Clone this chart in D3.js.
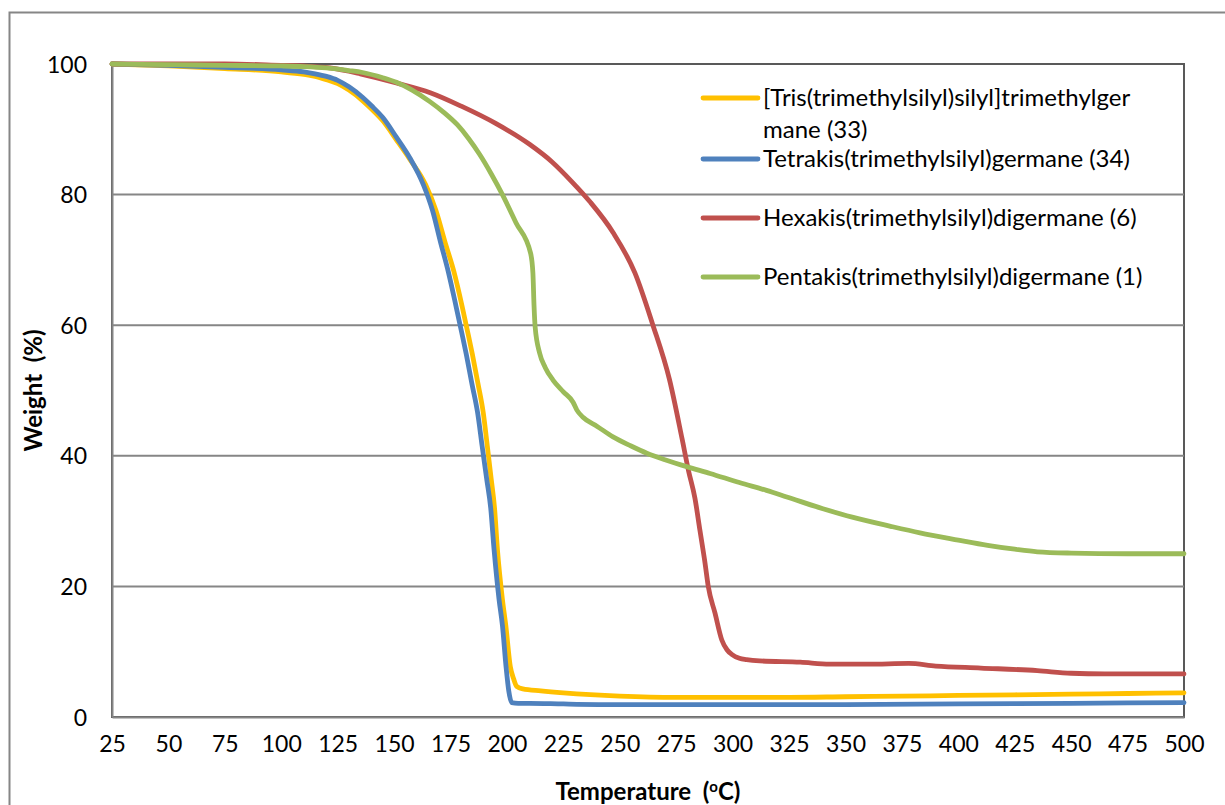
<!DOCTYPE html>
<html>
<head>
<meta charset="utf-8">
<script src="https://cdn.jsdelivr.net/npm/d3@7"></script>
<style>
  html, body { margin: 0; padding: 0; background: #fff; }
  svg { display: block; }
  text { font-family: Lato, "Open Sans", sans-serif; fill: #000; white-space: pre; }
</style>
</head>
<body>
<svg id="chart" width="1225" height="805"></svg>
<script>
// Thermogravimetric curves: weight (%) vs temperature (°C)
const xTicks = [25, 50, 75, 100, 125, 150, 175, 200, 225, 250, 275, 300, 325, 350, 375, 400, 425, 450, 475, 500];
const yTicks = [0, 20, 40, 60, 80, 100];

const seriesNames = [
  ["[Tris(trimethylsilyl)silyl]trimethylger", "mane (33)"],
  ["Tetrakis(trimethylsilyl)germane (34)"],
  ["Hexakis(trimethylsilyl)digermane (6)"],
  ["Pentakis(trimethylsilyl)digermane (1)"]
];
const seriesColors = ["#FFC000", "#4F81BD", "#C0504D", "#9BBB59"];

const trisTemp = [25, 50, 75, 100, 110, 115, 120, 125, 130, 136, 140, 145, 151, 157, 164, 168.5, 172.5, 176.5, 180.2, 182.7, 184.7, 187.2, 189.5, 191.3, 193, 194.5, 195.8, 198, 199.5, 201.5, 203, 204.3, 207, 215, 225, 250, 275, 300, 325, 350, 375, 400, 425, 450, 475, 500];
const trisWeight = [100, 99.7, 99.3, 98.8, 98.4, 98.1, 97.6, 97.0, 96.0, 94.4, 93.1, 91.3, 88.4, 85.4, 81.5, 77.6, 72.8, 68.2, 62.8, 58.8, 55.5, 51.0, 46.6, 41.5, 36.5, 32.0, 25.6, 18.0, 14.0, 7.7, 5.8, 4.7, 4.3, 4.0, 3.7, 3.2, 3.0, 3.0, 3.0, 3.1, 3.2, 3.3, 3.4, 3.5, 3.6, 3.7];

const tetraTemp = [25, 50, 75, 100, 110, 115, 120, 125, 130, 136, 140, 145, 151, 157, 163, 167, 170.5, 174, 177.5, 180, 182, 184.5, 187, 189, 191, 192.8, 194.3, 196.5, 198, 199.6, 200.8, 202.1, 205, 210, 225, 250, 300, 350, 400, 450, 500];
const tetraWeight = [100, 99.8, 99.5, 99.1, 98.8, 98.5, 98.1, 97.5, 96.5, 94.9, 93.6, 91.8, 88.8, 85.6, 81.5, 77.6, 72.8, 68.2, 62.8, 58.8, 55.5, 51.0, 46.6, 41.5, 36.5, 32.0, 25.6, 18.0, 14.0, 7.7, 4.0, 2.2, 2.1, 2.1, 2.0, 1.9, 1.9, 1.9, 2.0, 2.1, 2.2];

const hexaTemp = [25, 50, 75, 100, 110, 121.6, 135, 151, 166, 180, 195, 210, 220, 228.7, 236.8, 247, 256.7, 264.5, 272, 277.6, 280.4, 283.3, 285.5, 287.8, 289.2, 292.2, 295.2, 297.5, 299.6, 303, 306.2, 312, 330, 343, 360, 378, 390, 410, 435, 450, 465, 500];
const hexaWeight = [100, 100, 100, 99.8, 99.7, 99.4, 98.5, 97.1, 95.6, 93.5, 90.9, 87.7, 85.0, 82.0, 78.9, 74.2, 68.0, 60.2, 51.7, 42.6, 37.8, 33.5, 28.6, 23.5, 20.0, 15.9, 11.8, 10.3, 9.6, 9.0, 8.8, 8.6, 8.4, 8.1, 8.1, 8.2, 7.8, 7.5, 7.1, 6.7, 6.6, 6.6];

const pentaTemp = [25, 50, 75, 100, 110, 120, 130, 136, 145, 151, 158, 166, 172, 178, 183, 188, 193, 198, 204, 210.5, 211.5, 212, 212.5, 214.5, 217, 220.4, 225, 229.3, 231, 233.7, 240, 247, 255, 262, 270, 280, 290, 303, 315, 324, 340, 353, 370, 383, 400, 413, 425, 435, 450, 475, 500];
const pentaWeight = [100, 99.9, 99.8, 99.7, 99.6, 99.4, 99.0, 98.7, 97.9, 97.2, 96.0, 94.2, 92.6, 90.7, 88.6, 86.1, 83.2, 80.0, 75.7, 71.0, 68.0, 63.0, 59.7, 55.7, 53.5, 51.6, 49.8, 48.2, 47.0, 45.9, 44.5, 42.9, 41.5, 40.4, 39.4, 38.3, 37.3, 35.9, 34.7, 33.7, 31.9, 30.6, 29.2, 28.2, 27.1, 26.3, 25.7, 25.3, 25.1, 25.0, 25.0];

const seriesData = [
  d3.zip(trisTemp, trisWeight),
  d3.zip(tetraTemp, tetraWeight),
  d3.zip(hexaTemp, hexaWeight),
  d3.zip(pentaTemp, pentaWeight)
];

const svg = d3.select("#chart");
const plot = { left: 112, right: 1184, top: 64, bottom: 717 };

const x = d3.scaleLinear().domain([25, 500]).range([plot.left, plot.right]);
const y = d3.scaleLinear().domain([0, 100]).range([plot.bottom, plot.top]);

// Outer chart border
svg.append("rect")
  .attr("x", 9.5).attr("y", 12.5)
  .attr("width", 1240).attr("height", 820)
  .attr("fill", "none").attr("stroke", "#868686").attr("stroke-width", 2);

// Plot-area frame
svg.append("rect")
  .attr("x", plot.left).attr("y", plot.top)
  .attr("width", plot.right - plot.left).attr("height", plot.bottom - plot.top)
  .attr("fill", "none").attr("stroke", "#595959").attr("stroke-width", 2);

// Horizontal gridlines
svg.append("g")
  .selectAll("line")
  .data(yTicks.filter(d => d > 0 && d < 100))
  .join("line")
  .attr("x1", plot.left).attr("x2", plot.right)
  .attr("y1", d => y(d)).attr("y2", d => y(d))
  .attr("stroke", "#868686").attr("stroke-width", 2);

// Axes (no tick marks, labels only)
const yAxis = d3.axisLeft(y).tickValues(yTicks).tickSize(0).tickPadding(25);
const gy = svg.append("g").attr("transform", `translate(${plot.left},0)`).call(yAxis);
gy.select(".domain").attr("stroke", "#868686").attr("stroke-width", 2);
gy.selectAll("text").style("font-size", "23px").attr("dy", "0.35em");

const xAxis = d3.axisBottom(x).tickValues(xTicks).tickSize(0).tickPadding(27);
const gx = svg.append("g").attr("transform", `translate(0,${plot.bottom})`).call(xAxis);
gx.select(".domain").attr("stroke", "#868686").attr("stroke-width", 2);
gx.selectAll("text").style("font-size", "23px").attr("dy", "0.35em");

// Series curves
const line = d3.line()
  .x(d => x(d[0]))
  .y(d => y(d[1]))
  .curve(d3.curveMonotoneX);

svg.append("g")
  .selectAll("path")
  .data(seriesData)
  .join("path")
  .attr("d", line)
  .attr("fill", "none")
  .attr("stroke", (d, i) => seriesColors[i])
  .attr("stroke-width", 4.8)
  .attr("stroke-linejoin", "round")
  .attr("stroke-linecap", "round");

// Legend
const legendRows = [98, 159, 218, 277];
const legend = svg.append("g");
seriesNames.forEach((lines, i) => {
  const g = legend.append("g").attr("transform", `translate(703,${legendRows[i]})`);
  g.append("line")
    .attr("x1", 0).attr("x2", 55).attr("y1", 0).attr("y2", 0)
    .attr("stroke", seriesColors[i]).attr("stroke-width", 4.8).attr("stroke-linecap", "round");
  lines.forEach((t, j) => {
    g.append("text")
      .attr("x", 60).attr("y", j * 32)
      .attr("dy", "0.35em")
      .style("font-size", "24px")
      .text(t);
  });
});

// Axis titles
svg.append("text")
  .attr("transform", `translate(42,${(plot.top + plot.bottom) / 2}) rotate(-90)`)
  .attr("text-anchor", "middle")
  .style("font-size", "24px").style("font-weight", "bold")
  .text("Weight  (%)");

const xt = svg.append("text")
  .attr("x", (plot.left + plot.right) / 2).attr("y", 800)
  .attr("text-anchor", "middle")
  .style("font-size", "24px").style("font-weight", "bold");
xt.append("tspan").text("Temperature  (");
xt.append("tspan").text("o").style("font-size", "15px").attr("dy", "-8");
xt.append("tspan").text("C)").attr("dy", "8");
</script>
</body>
</html>
